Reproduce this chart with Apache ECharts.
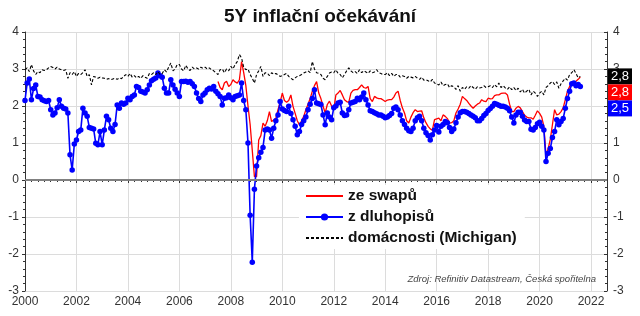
<!DOCTYPE html>
<html><head><meta charset="utf-8">
<script src="https://cdn.jsdelivr.net/npm/echarts@6/dist/echarts.min.js"></script>
<style>html,body{margin:0;padding:0;background:#fff}#c{width:640px;height:316px}</style>
</head><body><div id="c"></div>
<script>
// ---- data (monthly values) ----
const startYear = 2000;               // series index 0 = Jan 2000
const bondsStart = 0;                 // months after Jan 2000
const swapsStart = 90;                // Jul 2007
const michiganStart = 0;
const seriesNames = ['ze swapů', 'z dluhopisů', 'domácnosti (Michigan)'];

const bonds = [
2.15,2.62,2.73,2.17,2.47,2.57,2.26,2.24,2.17,2.14,2.12,2.15,
1.90,1.76,1.81,1.95,2.17,1.99,1.94,1.92,1.81,0.68,0.27,0.97,
1.08,1.31,1.35,1.94,1.81,1.72,1.42,1.40,1.38,0.99,0.95,1.31,
0.95,1.35,1.72,1.63,1.40,1.31,1.50,2.03,1.94,2.08,2.05,2.08,
2.21,2.17,2.26,2.30,2.53,2.50,2.40,2.38,2.35,2.44,2.57,2.68,
2.72,2.76,2.89,2.82,2.78,2.48,2.35,2.35,2.71,2.57,2.45,2.35,
2.26,2.66,2.66,2.67,2.64,2.66,2.60,2.53,2.35,2.20,2.12,2.30,
2.35,2.44,2.48,2.46,2.53,2.40,2.33,2.26,2.03,2.21,2.22,2.30,
2.22,2.17,2.26,2.28,2.30,2.62,2.15,1.90,1.00,-0.95,-2.22,-0.25,
0.38,0.60,0.75,0.88,1.35,1.38,1.35,1.13,1.40,1.60,1.76,2.12,
1.92,1.88,1.85,1.99,1.80,1.63,1.45,1.22,1.31,1.50,1.60,1.70,
1.90,2.05,2.20,2.44,2.08,2.06,2.04,1.76,1.49,1.81,1.70,1.63,
1.95,2.00,2.08,2.10,1.81,1.74,1.76,1.90,2.08,2.10,2.12,2.21,
2.17,2.24,2.35,2.17,2.03,1.87,1.85,1.82,1.79,1.76,1.76,1.72,
1.68,1.70,1.74,1.80,1.94,1.97,1.90,1.76,1.60,1.50,1.40,1.33,
1.31,1.40,1.60,1.68,1.72,1.60,1.40,1.28,1.20,1.08,1.22,1.35,
1.47,1.30,1.45,1.50,1.58,1.55,1.42,1.31,1.38,1.55,1.70,1.82,
1.85,1.85,1.83,1.80,1.76,1.72,1.68,1.60,1.60,1.66,1.74,1.80,
1.88,1.93,1.99,2.07,2.05,2.02,1.99,1.99,1.97,1.94,1.87,1.70,
1.54,1.76,1.83,1.83,1.72,1.62,1.58,1.58,1.37,1.35,1.42,1.52,
1.56,1.45,1.35,0.50,0.72,0.85,1.15,1.31,1.63,1.49,1.58,1.66,
1.94,2.20,2.40,2.60,2.62,2.55,2.58,2.53
];

const swaps = [
2.66,2.50,2.44,2.62,2.67,2.53,
2.58,2.71,2.65,2.62,2.71,3.20,2.90,2.55,2.00,1.50,0.80,0.09,
0.09,1.08,1.20,1.54,1.45,1.60,1.85,1.58,1.62,1.67,1.90,2.10,
2.35,2.15,2.10,2.15,2.30,1.99,1.80,1.60,1.49,1.60,1.72,1.90,
2.05,2.20,2.40,2.55,2.66,2.35,2.20,2.00,1.81,2.04,2.13,2.00,
1.90,2.30,2.35,2.42,2.30,2.17,2.12,2.10,2.35,2.42,2.44,2.44,
2.50,2.57,2.50,2.48,2.53,2.20,2.12,2.26,2.22,2.20,2.20,2.16,
2.12,2.16,2.17,2.17,2.24,2.35,2.40,2.15,1.95,1.81,1.60,1.54,
1.70,1.82,1.90,1.85,1.86,1.87,1.68,1.55,1.45,1.38,1.35,1.63,
1.65,1.67,1.60,1.76,1.72,1.66,1.54,1.55,1.60,1.81,1.92,2.05,
2.26,2.20,2.15,2.07,2.00,1.94,2.00,2.05,2.08,2.17,2.13,2.12,
2.21,2.19,2.20,2.28,2.30,2.30,2.34,2.35,2.35,2.30,2.05,1.85,
1.85,1.94,1.99,1.95,1.85,1.75,1.70,1.68,1.68,1.64,1.75,1.87,
1.80,1.70,1.45,0.65,0.85,1.10,1.50,1.90,1.76,1.78,1.85,1.95,
2.17,2.40,2.53,2.62,2.64,2.67,2.72,2.78
];

const michigan = [
2.98,3.03,2.93,3.12,2.95,2.85,2.93,2.90,2.98,2.96,2.98,3.03,
3.07,3.04,3.00,3.05,3.00,2.98,2.96,2.98,2.75,2.90,2.85,2.93,
2.80,2.88,2.85,2.90,2.98,2.80,2.85,2.57,2.80,2.78,2.75,2.78,
2.76,2.75,2.72,2.74,2.71,2.73,2.75,2.72,2.76,2.74,2.80,2.85,
2.80,2.88,2.78,2.82,2.76,2.80,2.75,2.82,2.78,2.75,2.88,2.85,
2.90,2.85,2.93,2.85,2.88,2.98,2.92,3.05,3.16,2.95,3.00,3.12,
3.12,3.00,2.95,3.10,3.00,2.96,3.05,3.00,3.03,3.00,3.05,3.02,
3.05,3.00,3.03,2.98,2.95,2.90,2.85,2.98,3.00,2.90,3.00,2.95,
3.07,3.00,3.12,3.20,3.39,3.30,3.05,2.98,3.00,2.85,2.75,2.62,
2.85,2.95,3.07,2.80,2.90,2.89,2.82,2.90,2.86,2.88,2.84,2.80,
2.82,2.85,2.88,2.80,2.75,2.71,2.76,2.80,2.82,2.85,2.89,2.92,
2.95,2.90,3.20,3.00,2.90,2.88,2.85,2.75,2.71,2.80,2.89,2.92,
2.90,2.98,2.88,2.85,2.76,2.85,2.95,3.03,2.95,2.90,2.93,2.88,
2.98,2.90,2.95,2.92,2.88,2.95,2.90,2.92,2.98,2.90,2.88,2.85,
2.85,2.90,2.82,2.88,2.80,2.85,2.85,2.78,2.82,2.80,2.75,2.80,
2.78,2.76,2.80,2.75,2.72,2.78,2.70,2.71,2.68,2.65,2.72,2.62,
2.60,2.57,2.65,2.55,2.58,2.60,2.50,2.55,2.52,2.45,2.55,2.40,
2.50,2.45,2.52,2.48,2.55,2.50,2.45,2.52,2.49,2.50,2.55,2.50,
2.52,2.55,2.50,2.58,2.52,2.62,2.50,2.55,2.49,2.45,2.52,2.44,
2.50,2.42,2.48,2.38,2.45,2.35,2.40,2.45,2.30,2.40,2.35,2.26,
2.35,2.40,2.30,2.50,2.55,2.62,2.66,2.58,2.65,2.48,2.60,2.68,
2.75,2.70,2.85,2.90,2.98,2.88,2.76,2.80
];

const xTickLabels = [2000,2002,2004,2006,2008,2010,2012,2014,2016,2018,2020,2022];
const yTickLabels = [-3,-2,-1,0,1,2,3,4];

// ---- build ----
const FONT = 'Liberation Sans, Arial, sans-serif';
function pairs(vals, start) {
  return vals.map((v, i) => [startYear + (start + i) / 12, v]);
}
const fmt = v => v.toFixed(1).replace('.', ',');

const chart = echarts.init(document.getElementById('c'), null, {renderer: 'canvas'});
const gridCol = '#dcdcdc';
const axisCommon = {
  axisLine: {show: true, lineStyle: {color: '#333', width: 1}},
  axisLabel: {color: '#333', fontSize: 12, fontFamily: FONT},
};
const sourceText = {
  type: 'text', right: 44, top: 274, z: 10,
  style: {text: 'Zdroj: Refinitiv Datastream, Česká spořitelna', fill: '#444',
    font: 'italic 9.5px ' + FONT}
};
chart.setOption({
  animation: false,
  backgroundColor: '#fff',
  title: {
    text: '5Y inflační očekávání', left: 'center', top: 2,
    textStyle: {fontSize: 19, fontWeight: 'bold', color: '#111', fontFamily: FONT}
  },
  grid: {left: 25, right: 33, top: 32, bottom: 25, containLabel: false},
  legend: {
    data: [
      {name: seriesNames[0], itemStyle: {opacity: 0}},
      {name: seriesNames[1]},
      {name: seriesNames[2], itemStyle: {opacity: 0}}
    ],
    orient: 'vertical', left: 299, top: 185,
    itemWidth: 37, itemHeight: 9, itemGap: 5,
    backgroundColor: '#fff', padding: [3, 8, 3, 6],
    textStyle: {fontSize: 15.5, fontWeight: 'bold', color: '#111', fontFamily: FONT}
  },
  xAxis: {
    type: 'value', min: xTickLabels[0], max: 2022.62, interval: 2,
    ...axisCommon,
    axisTick: {show: true, length: 3, lineStyle: {color: '#333'}},
    minorTick: {show: true, splitNumber: 8, length: 2, lineStyle: {color: '#333'}},
    axisLabel: {...axisCommon.axisLabel, margin: 5,
      formatter: v => (xTickLabels.indexOf(v) >= 0 ? String(v) : '')},
    splitLine: {show: true, lineStyle: {color: gridCol, width: 1}}
  },
  yAxis: [{
    type: 'value', min: yTickLabels[0], max: yTickLabels[yTickLabels.length - 1], interval: 1,
    ...axisCommon,
    axisTick: {show: true, length: 3, lineStyle: {color: '#333'}},
    minorTick: {show: true, splitNumber: 5, length: 2, lineStyle: {color: '#333'}},
    axisLabel: {...axisCommon.axisLabel, margin: 6},
    splitLine: {show: true, lineStyle: {color: gridCol, width: 1}}
  }, {
    type: 'value', position: 'right', min: yTickLabels[0], max: yTickLabels[yTickLabels.length - 1], interval: 1,
    ...axisCommon,
    axisTick: {show: true, inside: true, length: 3, lineStyle: {color: '#333'}},
    minorTick: {show: true, splitNumber: 5, length: 2, lineStyle: {color: '#333'}},
    axisLabel: {...axisCommon.axisLabel, margin: 6},
    splitLine: {show: false}
  }],
  series: [{
    name: seriesNames[0], type: 'line', data: pairs(swaps, swapsStart),
    color: '#ff0000', symbol: 'none', showSymbol: false, lineStyle: {width: 1.3, color: '#ff0000'}, z: 3,
    markLine: {
      silent: true, symbol: 'none', label: {show: false},
      lineStyle: {color: '#808080', width: 2, type: 'solid'},
      data: [{yAxis: 0}]
    }
  }, {
    name: seriesNames[1], type: 'line', data: pairs(bonds, bondsStart),
    color: '#0000ff', symbol: 'circle', symbolSize: 5.5, showSymbol: true, showAllSymbol: true,
    lineStyle: {width: 1.6, color: '#0000ff'}, itemStyle: {color: '#0000ff'}, z: 4
  }, {
    name: seriesNames[2], type: 'line', data: pairs(michigan, michiganStart),
    color: '#000', symbol: 'none', showSymbol: false, lineStyle: {width: 1.1, color: '#000', type: [3, 2]}, z: 5
  }],
  graphic: [sourceText]
});

// end-value labels stacked at the right, starting at the household series' last value
const lastVals = [michigan[michigan.length - 1], swaps[swaps.length - 1], bonds[bonds.length - 1]];
const lastCols = ['#000000', '#ff0000', '#0000ff'];
const topY = chart.convertToPixel({yAxisIndex: 0}, lastVals[0]) - 8;
const xRight = chart.convertToPixel({xAxisIndex: 0}, 2022.62);
const g = [];
lastVals.forEach((v, k) => {
  g.push({
    type: 'group', x: xRight + 1, y: topY + k * 16, z: 20,
    children: [
      {type: 'rect', shape: {x: 0, y: 0, width: 24, height: 16}, style: {fill: lastCols[k]}, z: 20},
      {type: 'text', x: 12, y: 8, z: 21,
        style: {text: fmt(v), fill: '#fff', font: '13px ' + FONT, align: 'center', verticalAlign: 'middle'}}
    ]
  });
});
chart.setOption({graphic: [sourceText].concat(g)});
</script>
</body></html>
